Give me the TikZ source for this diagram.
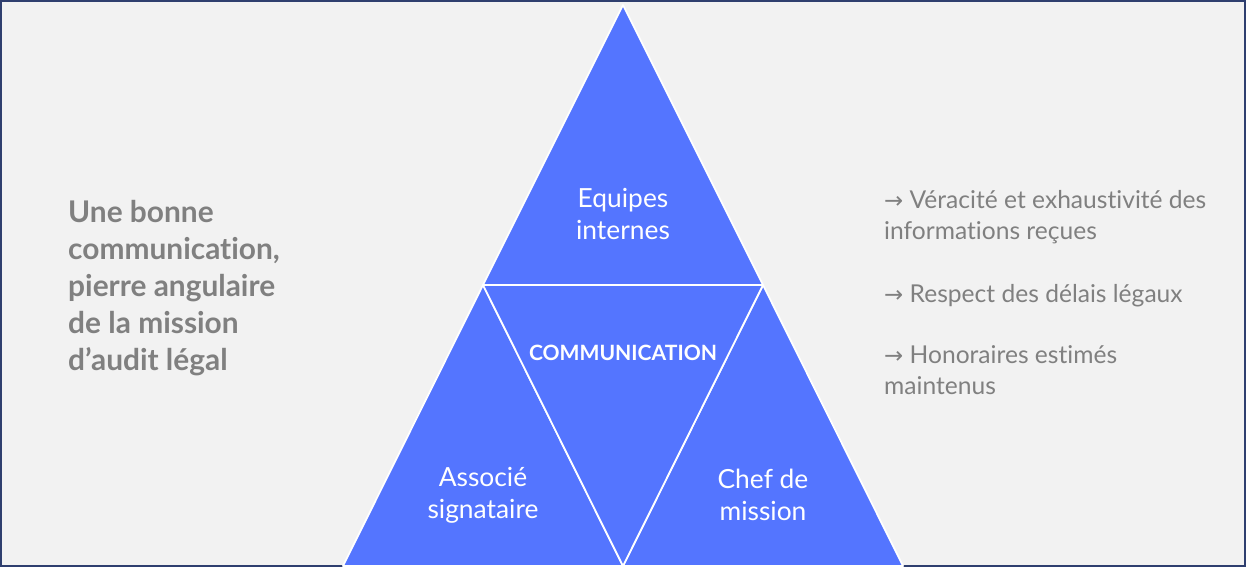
\documentclass[tikz,border=0pt]{standalone}
\usepackage{fontspec}
\setmainfont[Ligatures={NoCommon,NoRare}]{Lato}
\newfontfamily\arrowfont{DejaVu Sans}
\definecolor{bgray}{HTML}{F2F2F2}
\definecolor{pyblue}{HTML}{5475FF}
\definecolor{txtgray}{HTML}{808080}
\definecolor{frameblue}{HTML}{2F3F6F}
\newcommand{\toarrow}{{\arrowfont\fontsize{13}{17.6}\selectfont →}}
\begin{document}
\begin{tikzpicture}[x=0.02cm,y=-0.02cm]
    \tikzstyle{part}=[fill=pyblue, draw=white, line width=1pt, line join=round]
    \tikzstyle{inlabel}=[text=white, align=center, font=\fontsize{15}{18}\selectfont]
    \tikzstyle{note}=[text=txtgray, align=left, anchor=north west, font=\fontsize{14}{17.6}\selectfont]

    % Background and frame
    \fill[bgray] (0,0) rectangle (1246,567);
    \draw[frameblue, line width=0.8pt] (1,1) rectangle (1245,566);

    % Corners of the pyramid
    \coordinate (top) at (623,5);
    \coordinate (bl) at (343,566);
    \coordinate (br) at (903,566);
    \coordinate (ml) at (483,285);
    \coordinate (mr) at (763,285);
    \coordinate (mb) at (623,566);

    % The four triangles
    \path[part] (top) -- (mr) -- (ml) -- cycle;
    \path[part] (ml) -- (mb) -- (bl) -- cycle;
    \path[part] (mr) -- (br) -- (mb) -- cycle;
    \path[part] (ml) -- (mr) -- (mb) -- cycle;

    % Labels inside
    \node[inlabel] (equipes) at (623,214) {Equipes\\internes};
    \node[inlabel] (associe) at (483,495) {Associé\\signataire};
    \node[inlabel] (chef) at (763,495) {Chef de\\mission};
    \node[text=white, font=\fontsize{12}{14}\selectfont\bfseries] (comm) at (623,353) {COMMUNICATION};

    % Left title
    \node[text=txtgray, align=left, anchor=west, font=\fontsize{17}{21}\selectfont\bfseries] (titre) at (62,288)
        {Une bonne\\communication,\\pierre angulaire\\de la mission\\d’audit légal};

    % Right notes
    \node[note] (n1) at (878,184) {\toarrow{} Véracité et exhaustivité des\\informations reçues};
    \node[note] (n2) at (878,278) {\toarrow{} Respect des délais légaux};
    \node[note] (n3) at (878,339) {\toarrow{} Honoraires estimés\\maintenus};
\end{tikzpicture}
\end{document}
